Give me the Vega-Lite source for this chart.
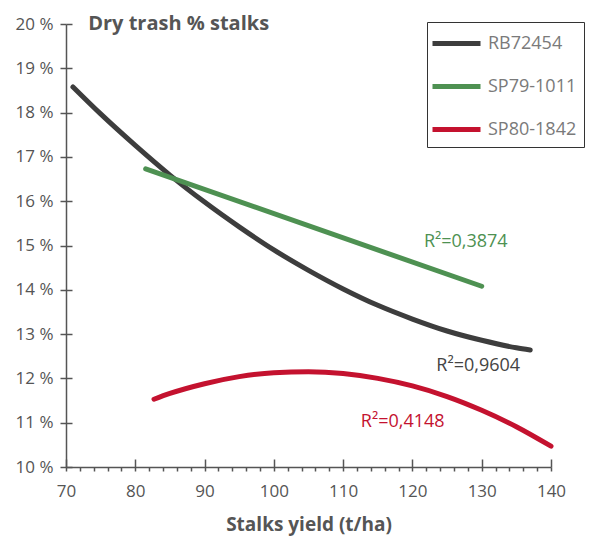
{
  "$schema": "https://vega.github.io/schema/vega-lite/v6.json",
  "width": 485,
  "height": 443,
  "autosize": {"type": "none"},
  "padding": {"left": 66, "top": 24, "right": 43, "bottom": 73},
  "config": {"view": {"stroke": null}, "font": "Open Sans"},
  "datasets": {
    "curves": [
      {"variety": "RB72454", "yield": 71, "trash": 18.58},
      {"variety": "RB72454", "yield": 75, "trash": 17.97},
      {"variety": "RB72454", "yield": 80, "trash": 17.26},
      {"variety": "RB72454", "yield": 85, "trash": 16.59},
      {"variety": "RB72454", "yield": 90, "trash": 15.98},
      {"variety": "RB72454", "yield": 95, "trash": 15.42},
      {"variety": "RB72454", "yield": 100, "trash": 14.9},
      {"variety": "RB72454", "yield": 105, "trash": 14.44},
      {"variety": "RB72454", "yield": 110, "trash": 14.02},
      {"variety": "RB72454", "yield": 115, "trash": 13.65},
      {"variety": "RB72454", "yield": 120, "trash": 13.34},
      {"variety": "RB72454", "yield": 125, "trash": 13.07},
      {"variety": "RB72454", "yield": 130, "trash": 12.86},
      {"variety": "RB72454", "yield": 135, "trash": 12.69},
      {"variety": "RB72454", "yield": 137, "trash": 12.64},
      {"variety": "SP79-1011", "yield": 81.5, "trash": 16.73},
      {"variety": "SP79-1011", "yield": 130, "trash": 14.08},
      {"variety": "SP80-1842", "yield": 82.7, "trash": 11.53},
      {"variety": "SP80-1842", "yield": 85, "trash": 11.66},
      {"variety": "SP80-1842", "yield": 90, "trash": 11.88},
      {"variety": "SP80-1842", "yield": 95, "trash": 12.04},
      {"variety": "SP80-1842", "yield": 100, "trash": 12.13},
      {"variety": "SP80-1842", "yield": 105, "trash": 12.15},
      {"variety": "SP80-1842", "yield": 110, "trash": 12.11},
      {"variety": "SP80-1842", "yield": 115, "trash": 12.0},
      {"variety": "SP80-1842", "yield": 120, "trash": 11.83},
      {"variety": "SP80-1842", "yield": 125, "trash": 11.59},
      {"variety": "SP80-1842", "yield": 130, "trash": 11.28},
      {"variety": "SP80-1842", "yield": 135, "trash": 10.91},
      {"variety": "SP80-1842", "yield": 140, "trash": 10.47}
    ],
    "notes": [
      {"variety": "SP79-1011", "yield": 127.7, "trash": 15.08, "label": "R²=0,3874"},
      {"variety": "RB72454", "yield": 129.5, "trash": 12.28, "label": "R²=0,9604"},
      {"variety": "SP80-1842", "yield": 118.6, "trash": 11.02, "label": "R²=0,4148"}
    ],
    "heading": [
      {"label": "Dry trash % stalks"}
    ]
  },
  "layer": [
    {
      "data": {"name": "curves"},
      "mark": {"type": "line", "strokeWidth": 5, "strokeCap": "round", "interpolate": "monotone"},
      "encoding": {
        "x": {
          "field": "yield", "type": "quantitative",
          "scale": {"domain": [70, 140]},
          "axis": {
            "orient": "bottom",
            "values": [70, 72, 74, 76, 78, 80, 82, 84, 86, 88, 90, 92, 94, 96, 98, 100, 102, 104, 106, 108, 110, 112, 114, 116, 118, 120, 122, 124, 126, 128, 130, 132, 134, 136, 138, 140],
            "labelExpr": "datum.value % 10 === 0 ? datum.label : ''",
            "labelOverlap": false,
            "title": "Stalks yield (t/ha)",
            "titleFontSize": 19, "titleFontWeight": "bold", "titleColor": "#555555", "titlePadding": 16,
            "labelFontSize": 17, "labelColor": "#555555", "labelPadding": 12, "labelFlush": false,
            "tickSize": 4, "tickWidth": 1.5, "tickColor": "#555555",
            "domainColor": "#555555", "domainWidth": 1.5, "grid": false
          }
        },
        "y": {
          "field": "trash", "type": "quantitative",
          "scale": {"domain": [10, 20]},
          "axis": {
            "orient": "left",
            "values": [10, 11, 12, 13, 14, 15, 16, 17, 18, 19, 20],
            "title": null,
            "labelExpr": "datum.value + ' %'",
            "labelFontSize": 17, "labelColor": "#555555", "labelPadding": 7,
            "tickSize": 6, "tickWidth": 1.5, "tickColor": "#555555",
            "domainColor": "#555555", "domainWidth": 1.5, "grid": false
          }
        },
        "color": {
          "field": "variety", "type": "nominal",
          "scale": {"domain": ["RB72454", "SP79-1011", "SP80-1842"], "range": ["#3d3d3d", "#4e9152", "#c4122f"]},
          "legend": {
            "orient": "none", "legendX": 361, "legendY": -2,
            "title": null,
            "symbolType": "M-2,0H2", "symbolSize": 576, "symbolStrokeWidth": 5, "symbolOffset": 8,
            "labelFontSize": 18, "labelColor": "#7a7a7a", "labelOffset": 17,
            "strokeColor": "#333333", "padding": 7, "rowPadding": 18
          }
        }
      }
    },
    {
      "data": {"name": "notes"},
      "mark": {"type": "text", "fontSize": 18, "align": "center", "baseline": "middle"},
      "encoding": {
        "x": {"field": "yield", "type": "quantitative", "axis": null},
        "y": {"field": "trash", "type": "quantitative", "axis": null},
        "text": {"field": "label"},
        "color": {
          "field": "variety", "type": "nominal",
          "scale": {"domain": ["RB72454", "SP79-1011", "SP80-1842"], "range": ["#444444", "#4e9152", "#c4122f"]},
          "legend": null
        }
      }
    },
    {
      "data": {"name": "heading"},
      "mark": {"type": "text", "fontSize": 20, "fontWeight": "bold", "color": "#555555", "align": "left", "baseline": "middle"},
      "encoding": {
        "x": {
          "datum": 73.2, "type": "quantitative",
          "axis": {
            "orient": "top", "offset": -443, "zindex": 2, "tickCount": 7,
            "title": null, "labels": false, "domain": false, "grid": false,
            "tickSize": 8, "tickWidth": 1.5, "tickColor": "#555555"
          }
        },
        "y": {
          "datum": 20, "type": "quantitative",
          "axis": {
            "orient": "right", "offset": -485, "zindex": 2, "tickCount": 10,
            "title": null, "labels": false, "domain": false, "grid": false,
            "tickSize": 6, "tickWidth": 1.5, "tickColor": "#555555"
          }
        },
        "text": {"field": "label"}
      }
    }
  ],
  "resolve": {"axis": {"x": "independent", "y": "independent"}, "scale": {"color": "independent"}}
}
